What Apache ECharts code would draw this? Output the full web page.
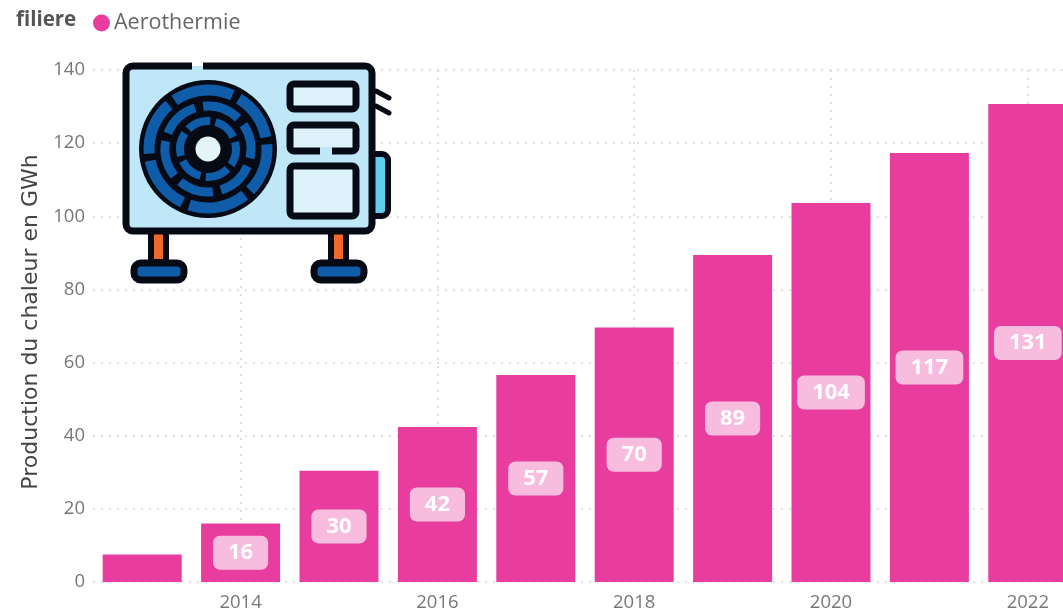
<!DOCTYPE html>
<html><head><meta charset="utf-8">
<style>html,body{margin:0;padding:0;background:#fff;overflow:hidden}#c{width:1063px;height:612px}</style>
<script src="https://cdn.jsdelivr.net/npm/echarts@6/dist/echarts.min.js"></script>
</head><body><div id="c"></div>
<script>
const categories = ['2013','2014','2015','2016','2017','2018','2019','2020','2021','2022'];
const seriesName = 'Aerothermie';
const production = [7.5,16,30.4,42.4,56.6,69.6,89.4,103.6,117.3,130.7];
const yAxisTitle = 'Production du chaleur en GWh';
const legendTitle = 'filiere';

const K='#050a14', BLUE='#0f5ca8', SKY='#bfe7f8', PALE='#ddf2fb', ORANGE='#f2682a', CYAN='#63cdee', PINK='#e83c9e';
const icon=[];
const rr=(x,y,w,h,r,fill,sw)=>icon.push({type:'rect',shape:{x,y,width:w,height:h,r},style:{fill,stroke:sw?K:null,lineWidth:sw||0}});
const ln=(x1,y1,x2,y2,w,c)=>icon.push({type:'line',shape:{x1,y1,x2,y2},style:{stroke:c||K,lineWidth:w,lineCap:'round'}});
// side pipe and refrigerant lines
rr(366,154,22,62,6,CYAN,6);
ln(376,91,389,98,5); ln(376,106,389,113,5);
// legs and feet
rr(151,230,15,32,0,ORANGE,6); rr(331,230,15,32,0,ORANGE,6);
rr(134,263,50,17,7,BLUE,7); rr(314,263,50,17,7,BLUE,7);
// body
rr(126,66,246,165,7,SKY,7);
icon.push({type:'rect',shape:{x:192,y:60,width:11,height:10},style:{fill:'#fff'}});
icon.push({type:'rect',shape:{x:192,y:66,width:11,height:4},style:{fill:SKY}});
// panels
rr(290,84,66,25,4,PALE,7);
rr(290,125,66,26,4,PALE,7);
icon.push({type:'rect',shape:{x:320,y:147,width:12,height:8},style:{fill:SKY}});
rr(290,166,66,50,4,PALE,7);
// fan
const fc=[208,149];
icon.push({type:'circle',shape:{cx:fc[0],cy:fc[1],r:69},style:{fill:K}});
const rings=[{r:59,w:11,gaps:[-62,-8,48,112,172,232],n:6},{r:43,w:9,gaps:[-40,18,78,136,196,258],n:6},{r:28,w:8,gaps:[-20,40,100,160,220,280],n:6}];
rings.forEach(g=>{
  g.gaps.forEach((a,i)=>{
    const b=g.gaps[(i+1)%g.n]+(i===g.n-1?360:0);
    const pad=g.r>50?3.5:5.5;
    icon.push({type:'arc',shape:{cx:fc[0],cy:fc[1],r:g.r,startAngle:(a+pad)*Math.PI/180,endAngle:(b-pad)*Math.PI/180,clockwise:true},style:{stroke:BLUE,fill:null,lineWidth:g.w}});
  });
});
icon.push({type:'circle',shape:{cx:fc[0],cy:fc[1],r:18},style:{fill:K}});
icon.push({type:'circle',shape:{cx:fc[0],cy:fc[1],r:12.5},style:{fill:'#e4f4fb'}});

const chart=echarts.init(document.getElementById('c'),null,{renderer:'canvas'});
const FONT='"Open Sans", sans-serif';
chart.setOption({
  animation:false,
  backgroundColor:'#fff',
  color:[PINK],
  textStyle:{fontFamily:FONT},
  legend:{show:true,data:[seriesName],left:88,top:7,icon:'circle',itemWidth:17,itemHeight:17,itemGap:7,
    textStyle:{fontFamily:FONT,fontSize:21.5,color:'#666',padding:[0,0,0,-1]}},
  grid:{left:93,width:984,top:70,bottom:30,outerBoundsMode:'none'},
  xAxis:{type:'category',data:categories,boundaryGap:true,
    axisLine:{show:false},axisTick:{show:false},
    axisLabel:{interval:(i)=>i%2===1,color:'#777',fontSize:18.5,margin:11,fontFamily:FONT},
    splitLine:{show:true,alignWithLabel:true,interval:(i)=>i%2===1,lineStyle:{type:[2,6],color:'#d6d6d6',width:1.5}}},
  yAxis:{type:'value',min:0,max:140,interval:20,
    name:yAxisTitle,nameLocation:'middle',nameGap:51,nameRotate:90,
    nameTextStyle:{color:'#444',fontSize:22,fontFamily:'"DejaVu Sans", sans-serif',padding:[0,0,0,8]},
    axisLine:{show:false},axisTick:{show:false},
    axisLabel:{color:'#777',fontSize:18.5,margin:8,fontFamily:FONT},
    splitLine:{show:true,lineStyle:{type:[2,6],color:'#d6d6d6',width:1.5}}},
  series:[{name:seriesName,type:'bar',barWidth:79,
    data:production.map((v,i)=>i===0?{value:v,label:{show:false}}:v),
    itemStyle:{color:PINK},
    label:{show:true,position:'inside',formatter:p=>String(Math.round(p.value)),
      color:'#fff',fontWeight:'bold',fontSize:22,fontFamily:FONT,lineHeight:24,
      backgroundColor:'rgba(255,255,255,0.66)',borderRadius:7,padding:[5,15,5,15]}}],
  graphic:[
    {type:'text',left:16,top:10,style:{text:legendTitle,fill:'#555',fontFamily:FONT,fontSize:20.5,fontWeight:'bold'}},
    {type:'group',left:0,top:0,z:100,silent:true,children:icon.map(e=>Object.assign({z:100},e)),bounding:'raw'}
  ]
});
</script></body></html>
